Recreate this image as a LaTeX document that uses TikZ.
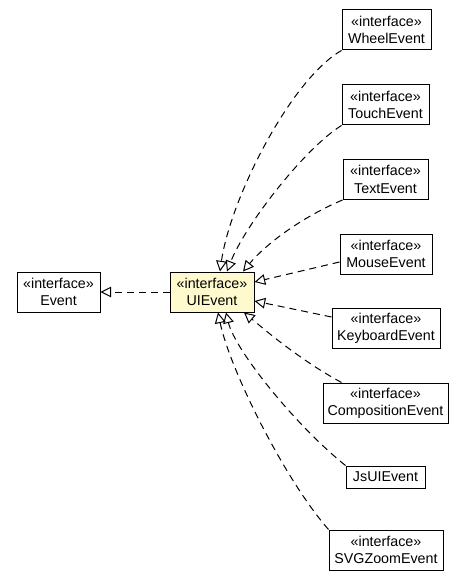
\documentclass[tikz,border=0pt]{standalone}
\usepackage{fontspec}
\setmainfont{Liberation Sans}
\usepackage{tikz}
\usetikzlibrary{arrows.meta,calc}
\definecolor{uifill}{RGB}{255,250,205}

\begin{document}
\begin{tikzpicture}[x=0.75pt,y=-0.75pt,
    iface/.style={draw, line width=0.75pt, inner sep=0pt, align=center,
        font=\fontsize{10.7}{13}\selectfont},
    realize/.style={draw, line width=0.75pt, dash pattern=on 5.25pt off 3.75pt,
        -{Triangle[open,length=8pt,width=8pt]}}]
    \useasboundingbox (0,0) rectangle (464,581);
    \node[iface, minimum width=83*0.75pt, minimum height=30pt] (event) at (58.5,292) {«interface»\\Event};
    \node[iface, fill=uifill, minimum width=84*0.75pt, minimum height=30pt] (ui) at (212,292) {«interface»\\UIEvent};
    \node[iface, minimum width=89*0.75pt, minimum height=30pt] (wheel) at (386.5,30) {«interface»\\WheelEvent};
    \node[iface, minimum width=87*0.75pt, minimum height=30pt] (touch) at (385.5,105) {«interface»\\TouchEvent};
    \node[iface, minimum width=85*0.75pt, minimum height=30pt] (text) at (385.5,179.5) {«interface»\\TextEvent};
    \node[iface, minimum width=92*0.75pt, minimum height=30pt] (mouse) at (386,254) {«interface»\\MouseEvent};
    \node[iface, minimum width=108*0.75pt, minimum height=30pt] (keyb) at (386,328) {«interface»\\KeyboardEvent};
    \node[iface, minimum width=125*0.75pt, minimum height=30pt] (comp) at (385.5,403) {«interface»\\CompositionEvent};
    \node[iface, minimum width=79*0.75pt, minimum height=22*0.75pt] (jsui) at (385.5,477) {JsUIEvent};
    \node[iface, minimum width=114*0.75pt, minimum height=30pt] (svg) at (386,550) {«interface»\\SVGZoomEvent};

    \draw[realize] (ui) -- (event);
    \draw[realize] (wheel.south west) .. controls (290,80) and (230,200) .. ($(ui.north)+(8,0)$);
    \draw[realize] (touch.south west) .. controls (305,148) and (245,225) .. ($(ui.north)+(15,0)$);
    \draw[realize] (text.south west) .. controls (300,218) and (265,245) .. ($(ui.north)+(31,0)$);
    \draw[realize] ($(mouse.west)+(0,8)$) -- ($(ui.east)+(0,-10)$);
    \draw[realize] ($(keyb.west)+(0,-11)$) -- ($(ui.east)+(0,9)$);
    \draw[realize] ($(comp.north west)+(19,0)$) .. controls (300,360) and (265,330) .. ($(ui.south)+(32,0)$);
    \draw[realize] (jsui.north west) .. controls (295,425) and (235,350) .. ($(ui.south)+(14,0)$);
    \draw[realize] (svg.north west) .. controls (285,480) and (230,370) .. ($(ui.south)+(6,0)$);
\end{tikzpicture}
\end{document}
